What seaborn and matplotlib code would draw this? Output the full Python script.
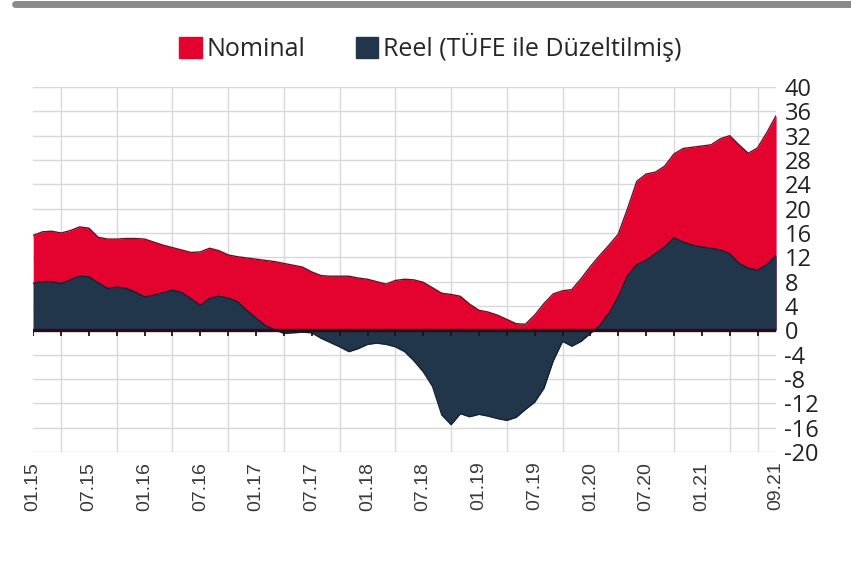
import numpy as np
import pandas as pd
import matplotlib.pyplot as plt
import seaborn as sns
from matplotlib.patches import Patch
from matplotlib.lines import Line2D
from matplotlib.transforms import ScaledTranslation

# monthly data, 01.15 - 09.21
months = pd.date_range('2015-01-01', '2021-09-01', freq='MS')
month_labels = months.strftime('%m.%y').tolist()

nominal = [15.6, 16.2, 16.3, 16.0, 16.4, 17.0, 16.8, 15.3, 15.0, 15.0,
           15.1, 15.1, 15.0, 14.5, 14.0, 13.6, 13.2, 12.8, 12.9, 13.5,
           13.1, 12.4, 12.1, 11.9, 11.7, 11.5, 11.3, 11.0, 10.7, 10.4,
           9.6, 9.0, 8.9, 8.9, 8.9, 8.6, 8.4, 8.0, 7.6, 8.2,
           8.4, 8.3, 7.9, 7.0, 6.1, 5.9, 5.6, 4.3, 3.3, 3.0,
           2.5, 1.8, 1.1, 1.0, 2.5, 4.4, 6.0, 6.5, 6.7, 8.5,
           10.5, 12.3, 14.0, 15.8, 20.0, 24.5, 25.7, 26.0, 27.0, 29.0,
           29.9, 30.1, 30.3, 30.5, 31.5, 32.0, 30.5, 29.1, 30.0, 32.5,
           35.3]

reel = [7.7, 8.0, 8.0, 7.7, 8.3, 8.9, 8.8, 7.8, 6.9, 7.1,
        6.9, 6.3, 5.5, 5.8, 6.2, 6.6, 6.2, 5.2, 4.1, 5.3,
        5.6, 5.3, 4.7, 3.3, 2.0, 0.8, 0.1, -0.5, -0.4, -0.3,
        -0.4, -1.3, -2.0, -2.7, -3.5, -3.0, -2.3, -2.1, -2.3, -2.7,
        -3.5, -5.0, -6.8, -9.2, -13.9, -15.5, -13.7, -14.2, -13.8, -14.1,
        -14.5, -14.8, -14.3, -13.0, -11.8, -9.5, -5.0, -1.8, -2.6, -1.8,
        -0.5, 0.8, 2.8, 5.5, 9.0, 10.8, 11.5, 12.6, 13.7, 15.2,
        14.5, 14.0, 13.7, 13.5, 13.2, 12.6, 11.0, 10.2, 9.9, 10.8,
        12.3]

tick_labels = ['01.15', '07.15', '01.16', '07.16', '01.17', '07.17', '01.18',
               '07.18', '01.19', '07.19', '01.20', '07.20', '01.21', '09.21']

red = '#e3032e'
navy = '#22364b'

df = pd.DataFrame({'t': np.arange(len(months)), 'Nominal': nominal, 'Reel': reel})

sns.set_style('white')
plt.rcParams['font.family'] = ['Open Sans', 'DejaVu Sans']
plt.rcParams['axes.unicode_minus'] = False

fig = plt.figure(figsize=(8.51, 5.84), dpi=100)
ax = fig.add_axes([0.039, 0.226, 0.873, 0.625])

# areas: nominal first, real on top
ax.fill_between(df['t'], 0, df['Nominal'], color=red, lw=0, zorder=2)
sns.lineplot(data=df, x='t', y='Nominal', ax=ax, color='#6a1022', lw=1, zorder=3)
ax.fill_between(df['t'], 0, df['Reel'], color=navy, lw=0, zorder=4)
sns.lineplot(data=df, x='t', y='Reel', ax=ax, color='#142232', lw=1, zorder=5)

# zero line with small ticks
ax.axhline(0, color='#2a0c14', lw=2.4, zorder=6)
ax.vlines(np.arange(0, len(months), 3), -0.9, 0, color='#2a0c14', lw=1.3, zorder=6)

ax.set_xlim(0, len(months) - 1)
ax.set_ylim(-20, 40)

# grid
ax.set_xticks(np.arange(0, len(months), 3), minor=True)
ax.set_xticks([month_labels.index(l) for l in tick_labels])
ax.set_xticklabels(tick_labels, rotation=90, fontfamily='Liberation Sans',
                   fontsize=14, color='#3a3a3a')
shift = ScaledTranslation(3 / 100, 0, fig.dpi_scale_trans)
for lab in ax.get_xticklabels():
    lab.set_transform(lab.get_transform() + shift)
ax.set_yticks(np.arange(-20, 41, 4))
ax.grid(which='minor', axis='x', color='#d8d8d8', lw=1)
ax.grid(which='major', axis='y', color='#d8d8d8', lw=1)
ax.grid(which='major', axis='x', visible=False)
ax.yaxis.tick_right()
ax.tick_params(axis='y', length=0, labelsize=17, pad=6, labelcolor='#222222')
ax.tick_params(axis='x', which='both', length=0, pad=7)
ax.set_xlabel('')
ax.set_ylabel('')
for s in ax.spines.values():
    s.set_visible(False)

# legend
handles = [Patch(color=red), Patch(color=navy)]
fig.legend(handles, ['Nominal', 'Reel (TÜFE ile Düzeltilmiş)'], loc='center',
           bbox_to_anchor=(0.506, 0.918), ncol=2, frameon=False, fontsize=18,
           handlelength=0.9, handleheight=0.9, handletextpad=0.2, columnspacing=2.0)

# grey bar at top
fig.add_artist(Line2D([0.018, 1.0], [0.993, 0.993], color='#8a8a8a', lw=5))

fig.savefig('out.png', dpi=100)
